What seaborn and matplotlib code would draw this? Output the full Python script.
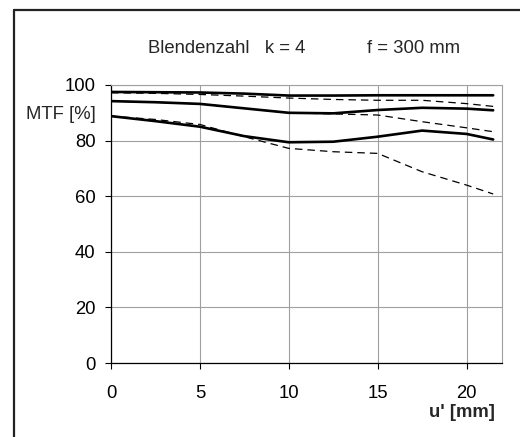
import pandas as pd
import seaborn as sns
import matplotlib.pyplot as plt
from matplotlib.lines import Line2D

# Bildhöhe u' [mm]
u_mm = [0, 2.5, 5, 7.5, 10, 12.5, 15, 17.5, 20, 21.5]

# MTF-Werte [%] (durchgezogen = radial, gestrichelt = tangential)
solid_1 = [97.5, 97.4, 97.3, 96.9, 96.2, 96.2, 96.3, 96.3, 96.3, 96.3]
dashed_1 = [97.2, 97.0, 96.6, 96.0, 95.3, 94.8, 94.5, 94.5, 93.3, 92.3]
solid_2 = [94.2, 93.8, 93.2, 91.6, 90.0, 89.8, 91.0, 91.8, 91.5, 90.9]
dashed_2 = [94.2, 93.8, 93.2, 91.6, 90.0, 89.6, 89.2, 86.8, 84.6, 83.2]
solid_3 = [88.8, 87.0, 85.0, 81.6, 79.4, 79.6, 81.4, 83.6, 82.4, 80.4]
dashed_3 = [88.8, 87.6, 85.8, 81.4, 77.2, 76.0, 75.4, 68.8, 64.0, 60.8]

x_ticks = [0, 5, 10, 15, 20]
y_ticks = [0, 20, 40, 60, 80, 100]

sns.set_theme(style='white')
plt.rcParams['font.family'] = ['Liberation Sans', 'DejaVu Sans']
fs = 13.3

fig = plt.figure(figsize=(5.2, 4.37), dpi=100)
ax = fig.add_axes([0.2135, 0.1693, 0.7520, 0.6362])

df = pd.DataFrame({'u': u_mm})
for vals in [solid_1, solid_2, solid_3]:
    sns.lineplot(x=df['u'], y=vals, ax=ax, color='black', linewidth=1.9, zorder=4)
for vals in [dashed_1, dashed_2, dashed_3]:
    sns.lineplot(x=df['u'], y=vals, ax=ax, color='black', linewidth=0.9,
                 linestyle=(0, (6, 4)), zorder=3)

ax.set_xlim(0, 22)
ax.set_ylim(0, 100)
ax.set_xticks(x_ticks)
ax.set_yticks(y_ticks)
ax.set_xlabel('')
ax.set_ylabel('')
ax.grid(True, color='#a0a0a0', linewidth=0.8)
ax.set_axisbelow(True)

for side in ['top', 'right']:
    ax.spines[side].set_color('#a0a0a0')
    ax.spines[side].set_linewidth(0.8)
for side in ['left', 'bottom']:
    ax.spines[side].set_color('black')
    ax.spines[side].set_linewidth(0.9)

ax.tick_params(axis='both', which='major', direction='out', length=4, width=0.8,
               color='black', labelsize=fs, labelcolor='black')
ax.tick_params(axis='y', pad=7, left=True)
ax.tick_params(axis='x', pad=12, bottom=True)

# Beschriftungen
fig.text(0.2846, 0.888, 'Blendenzahl   k = 4', fontsize=fs, ha='left', va='center')
fig.text(0.7058, 0.888, 'f = 300 mm', fontsize=fs, ha='left', va='center')
fig.text(0.1846, 0.737, 'MTF [%]', fontsize=fs, ha='right', va='center')
fig.text(0.952, 0.055, "u' [mm]", fontsize=fs, fontweight='bold', ha='right', va='center')

# Rahmen (oben und links)
fig.add_artist(Line2D([0.026, 1.0], [0.978, 0.978], transform=fig.transFigure,
                      color='#222222', linewidth=1.6))
fig.add_artist(Line2D([0.026, 0.026], [0.0, 0.978], transform=fig.transFigure,
                      color='#222222', linewidth=1.6))

plt.savefig('out.png', dpi=100)
